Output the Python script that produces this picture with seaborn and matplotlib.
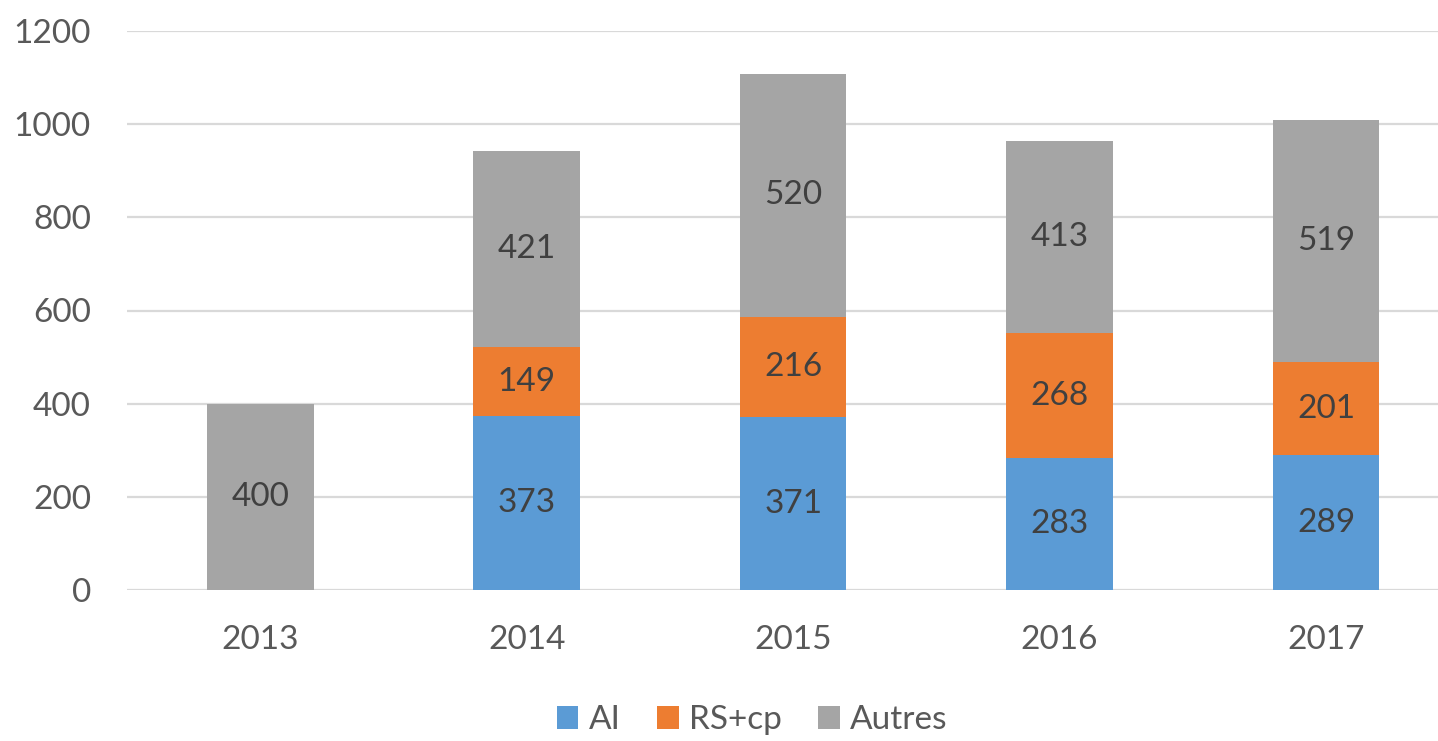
import matplotlib
matplotlib.use("Agg")
import matplotlib.pyplot as plt
import seaborn as sns
import pandas as pd
from matplotlib.patches import Patch

# values
years = ['2013', '2014', '2015', '2016', '2017']
ai = [0, 373, 371, 283, 289]
rs_cp = [0, 149, 216, 268, 201]
autres = [400, 421, 520, 413, 519]

series = ['AI', 'RS+cp', 'Autres']
colors = ['#5B9BD5', '#ED7D31', '#A5A5A5']

df = pd.DataFrame({'year': years, 'AI': ai, 'RS+cp': rs_cp, 'Autres': autres})

sns.set_style("white")
plt.rcParams['font.family'] = ['Lato', 'DejaVu Sans']

fig = plt.figure(figsize=(14.38, 7.41), dpi=100)
ax = fig.add_axes([127 / 1438, 151 / 741, 1 - 127 / 1438, 559 / 741])

bottom = [0] * len(years)
for name, col in zip(series, colors):
    sns.barplot(data=df, x='year', y=name, color=col, width=0.4,
                bottom=bottom, ax=ax, saturation=1, linewidth=0, zorder=3)
    bottom = [b + v for b, v in zip(bottom, df[name])]

for cont in ax.containers:
    labels = [f"{int(round(b.get_height()))}" if b.get_height() > 0 else "" for b in cont]
    ax.bar_label(cont, labels=labels, label_type='center', fontsize=24, color='#404040')

ax.set_ylim(0, 1200)
ax.set_xlim(-0.5, 4.42)
ax.set_yticks(range(0, 1201, 200))
ax.yaxis.grid(True, color='#D9D9D9', linewidth=1.6, zorder=0)
ax.set_axisbelow(True)
for s in ax.spines.values():
    s.set_visible(False)
ax.tick_params(axis='both', length=0, labelsize=24, labelcolor='#595959')
ax.tick_params(axis='y', pad=26)
ax.tick_params(axis='x', pad=25)
ax.set_xlabel('')
ax.set_ylabel('')

handles = [Patch(facecolor=c, edgecolor='none') for c in colors]
fig.legend(handles, series, loc='center', bbox_to_anchor=(0.523, 0.028), ncol=3,
           frameon=False, fontsize=24, handlelength=0.65, handleheight=0.65,
           handletextpad=0.3, columnspacing=1.1, labelcolor='#595959')

fig.savefig('out.png', dpi=100)
